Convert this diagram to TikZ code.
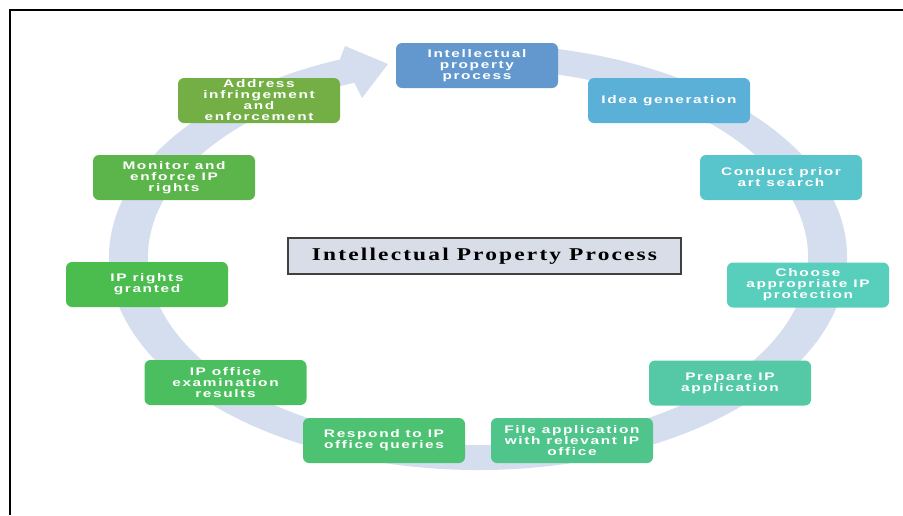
\documentclass[tikz,border=0pt]{standalone}
\usepackage{fontspec}
\usepackage{tikz}
\usetikzlibrary{calc}
\newfontfamily\boxfont{Liberation Sans}[FakeStretch=1.4,LetterSpace=15]
\newfontfamily\titlefont{Liberation Serif}[FakeStretch=1.3,LetterSpace=12]
\definecolor{ringblue}{HTML}{D4DEEE}
\definecolor{titlefill}{HTML}{D9DDE7}
\definecolor{cA}{HTML}{6398CF}
\definecolor{cB}{HTML}{5BB0D8}
\definecolor{cC}{HTML}{58C4CC}
\definecolor{cD}{HTML}{58CEBD}
\definecolor{cE}{HTML}{55C9A6}
\definecolor{cF}{HTML}{4FC58B}
\definecolor{cG}{HTML}{4EC273}
\definecolor{cH}{HTML}{4BBF60}
\definecolor{cI}{HTML}{4ABD4E}
\definecolor{cJ}{HTML}{5CB54A}
\definecolor{cK}{HTML}{73AF45}
\tikzset{
  stepbox/.style={rectangle,rounded corners=6pt,minimum width=162pt,minimum height=45pt,
    inner sep=1pt,align=center,text=white,font=\boxfont\bfseries\fontsize{11}{11}\selectfont},
  titlebox/.style={rectangle,draw=black!75,fill=titlefill,line width=1.6pt,
    minimum width=393pt,minimum height=36pt,font=\titlefont\bfseries\fontsize{18}{18}\selectfont},
  frameline/.style={line width=2pt,color=black},
}
\begin{document}
\begin{tikzpicture}[x=1pt,y=-1pt]
  \useasboundingbox (0,0) rectangle (903,515);
  \draw[frameline] (9.5,515)--(9.5,9.5)--(903,9.5);
  \coordinate (c) at (478,257);
  \fill[ringblue] (c) ++(-80:369 and 213)
    arc[start angle=-80,end angle=248,x radius=369,y radius=213]
    -- (345,46) -- (388,64) -- (362,98) -- ($(c)+(248:330 and 188)$)
    arc[start angle=248,end angle=-80,x radius=330,y radius=188] -- cycle;
  \node[stepbox,fill=cA] (ipp) at (477,65.5){Intellectual\\property\\process};
  \node[stepbox,fill=cB] (idea) at (669,100.5){Idea generation};
  \node[stepbox,fill=cC] (search) at (781,177.5){Conduct prior\\art search};
  \node[stepbox,fill=cD] (choose) at (808,285){Choose\\appropriate IP\\protection};
  \node[stepbox,fill=cE] (prepare) at (730,383){Prepare IP\\application};
  \node[stepbox,fill=cF] (file) at (572,440.5){File application\\with relevant IP\\office};
  \node[stepbox,fill=cG] (respond) at (384,440.5){Respond to IP\\office queries};
  \node[stepbox,fill=cH] (exam) at (225.5,382.5){IP office\\examination\\results};
  \node[stepbox,fill=cI] (granted) at (147,284.5){IP rights\\granted};
  \node[stepbox,fill=cJ] (monitor) at (174,177.5){Monitor and\\enforce IP\\rights};
  \node[stepbox,fill=cK] (address) at (259,100.5){Address\\infringement\\and\\enforcement};
  \node[titlebox] (title) at (484.5,256){Intellectual Property Process};
\end{tikzpicture}
\end{document}
